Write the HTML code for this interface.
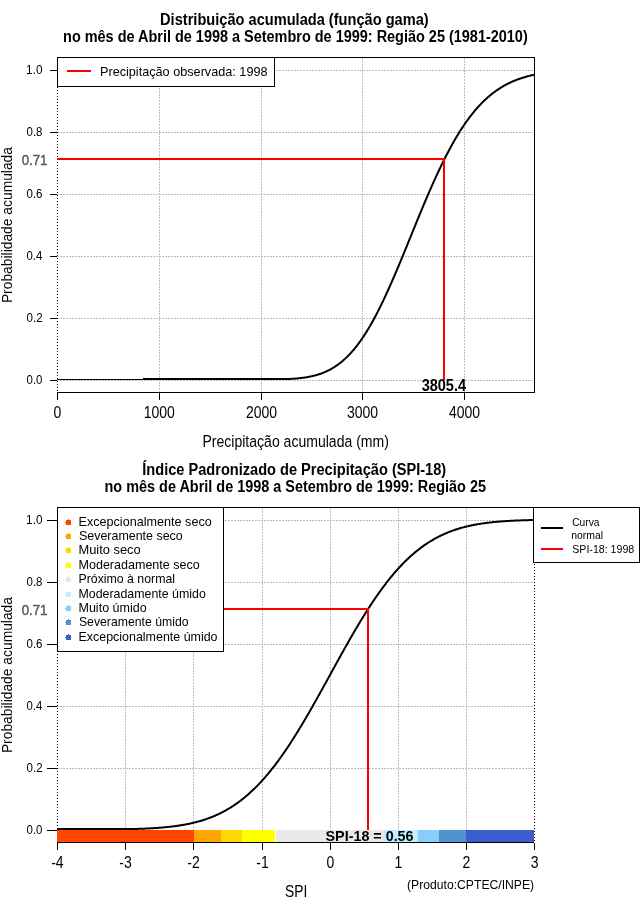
<!DOCTYPE html>
<html><head><meta charset="utf-8"><style>html,body{margin:0;padding:0;background:#fff;width:640px;height:900px;overflow:hidden}svg{display:block;will-change:transform}</style></head><body>
<svg width="640" height="900" viewBox="0 0 640 900">
<rect width="640" height="900" fill="#fff"/>
<g shape-rendering="crispEdges">
<line x1="57" y1="70.5" x2="534" y2="70.5" stroke="#bebebe" stroke-width="1" stroke-dasharray="2 1"/>
<line x1="57" y1="132.5" x2="534" y2="132.5" stroke="#bebebe" stroke-width="1" stroke-dasharray="2 1"/>
<line x1="57" y1="194.5" x2="534" y2="194.5" stroke="#bebebe" stroke-width="1" stroke-dasharray="2 1"/>
<line x1="57" y1="256.5" x2="534" y2="256.5" stroke="#bebebe" stroke-width="1" stroke-dasharray="2 1"/>
<line x1="57" y1="318.5" x2="534" y2="318.5" stroke="#bebebe" stroke-width="1" stroke-dasharray="2 1"/>
<line x1="57" y1="380.5" x2="534" y2="380.5" stroke="#bebebe" stroke-width="1" stroke-dasharray="2 1"/>
<line x1="159.5" y1="58" x2="159.5" y2="392" stroke="#bebebe" stroke-width="1" stroke-dasharray="2 1"/>
<line x1="261.5" y1="58" x2="261.5" y2="392" stroke="#bebebe" stroke-width="1" stroke-dasharray="2 1"/>
<line x1="362.5" y1="58" x2="362.5" y2="392" stroke="#bebebe" stroke-width="1" stroke-dasharray="2 1"/>
<line x1="464.5" y1="58" x2="464.5" y2="392" stroke="#bebebe" stroke-width="1" stroke-dasharray="2 1"/>
<line x1="57.5" y1="57" x2="57.5" y2="392" stroke="#000" stroke-width="1" stroke-dasharray="1 2"/>
</g>
<polyline points="143.00,379.00 143.80,379.00 144.60,379.00 145.39,379.00 146.19,379.00 146.98,379.00 147.78,379.00 148.58,379.00 149.37,379.00 150.17,379.00 150.97,379.00 151.76,379.00 152.56,379.00 153.36,379.00 154.15,379.00 154.95,379.00 155.74,379.00 156.54,379.00 157.34,379.00 158.13,379.00 158.93,379.00 159.73,379.00 160.52,379.00 161.32,379.00 162.12,379.00 162.91,379.00 163.71,379.00 164.50,379.00 165.30,379.00 166.10,379.00 166.89,379.00 167.69,379.00 168.49,379.00 169.28,379.00 170.08,379.00 170.87,379.00 171.67,379.00 172.47,379.00 173.26,379.00 174.06,379.00 174.86,379.00 175.65,379.00 176.45,379.00 177.25,379.00 178.04,379.00 178.84,379.00 179.63,379.00 180.43,379.00 181.23,379.00 182.02,379.00 182.82,379.00 183.62,379.00 184.41,379.00 185.21,379.00 186.01,379.00 186.80,379.00 187.60,379.00 188.39,379.00 189.19,379.00 189.99,379.00 190.78,379.00 191.58,379.00 192.38,379.00 193.17,379.00 193.97,379.00 194.76,379.00 195.56,379.00 196.36,379.00 197.15,379.00 197.95,379.00 198.75,379.00 199.54,379.00 200.34,379.00 201.14,379.00 201.93,379.00 202.73,379.00 203.52,379.00 204.32,379.00 205.12,379.00 205.91,379.00 206.71,379.00 207.51,379.00 208.30,379.00 209.10,379.00 209.89,379.00 210.69,379.00 211.49,379.00 212.28,379.00 213.08,379.00 213.88,379.00 214.67,379.00 215.47,379.00 216.27,379.00 217.06,379.00 217.86,379.00 218.65,379.00 219.45,379.00 220.25,379.00 221.04,379.00 221.84,379.00 222.64,379.00 223.43,379.00 224.23,379.00 225.03,379.00 225.82,379.00 226.62,379.00 227.41,379.00 228.21,379.00 229.01,379.00 229.80,379.00 230.60,379.00 231.40,379.00 232.19,379.00 232.99,379.00 233.78,379.00 234.58,379.00 235.38,379.00 236.17,379.00 236.97,379.00 237.77,379.00 238.56,379.00 239.36,379.00 240.16,379.00 240.95,379.00 241.75,379.00 242.54,379.00 243.34,379.00 244.14,379.00 244.93,379.00 245.73,379.00 246.53,379.00 247.32,379.00 248.12,379.00 248.91,379.00 249.71,379.00 250.51,379.00 251.30,379.00 252.10,379.00 252.90,379.00 253.69,379.00 254.49,379.00 255.29,379.00 256.08,379.00 256.88,379.00 257.67,379.00 258.47,379.00 259.27,379.00 260.06,379.00 260.86,379.00 261.66,379.00 262.45,379.00 263.25,379.00 264.05,379.00 264.84,379.00 265.64,379.00 266.43,379.00 267.23,379.00 268.03,379.00 268.82,379.00 269.62,379.00 270.42,379.00 271.21,379.00 272.01,379.00 272.80,379.00 273.60,379.00 274.40,379.00 275.19,379.00 275.99,379.00 276.79,379.00 277.58,379.00 278.38,379.00 279.18,379.00 279.97,379.00 280.77,379.00 281.56,379.00 282.36,379.00 283.16,379.00 283.95,379.00 284.75,379.00 285.55,379.00 286.34,379.00 287.14,379.00 287.93,379.00 288.73,379.00 289.53,378.95 290.32,378.91 291.12,378.86 291.92,378.81 292.71,378.76 293.51,378.71 294.31,378.65 295.10,378.58 295.90,378.52 296.69,378.45 297.49,378.38 298.29,378.30 299.08,378.22 299.88,378.13 300.68,378.04 301.47,377.95 302.27,377.85 303.07,377.74 303.86,377.64 304.66,377.52 305.45,377.40 306.25,377.27 307.05,377.14 307.84,377.00 308.64,376.86 309.44,376.70 310.23,376.55 311.03,376.38 311.82,376.21 312.62,376.02 313.42,375.83 314.21,375.64 315.01,375.43 315.81,375.22 316.60,374.99 317.40,374.76 318.20,374.52 318.99,374.26 319.79,374.00 320.58,373.73 321.38,373.45 322.18,373.15 322.97,372.85 323.77,372.53 324.57,372.20 325.36,371.86 326.16,371.51 326.95,371.14 327.75,370.76 328.55,370.37 329.34,369.97 330.14,369.55 330.94,369.12 331.73,368.67 332.53,368.21 333.33,367.73 334.12,367.24 334.92,366.73 335.71,366.21 336.51,365.67 337.31,365.11 338.10,364.54 338.90,363.95 339.70,363.35 340.49,362.73 341.29,362.09 342.09,361.43 342.88,360.75 343.68,360.06 344.47,359.35 345.27,358.62 346.07,357.87 346.86,357.10 347.66,356.31 348.46,355.50 349.25,354.68 350.05,353.83 350.84,352.97 351.64,352.08 352.44,351.17 353.23,350.25 354.03,349.30 354.83,348.33 355.62,347.35 356.42,346.34 357.22,345.31 358.01,344.26 358.81,343.19 359.60,342.10 360.40,340.99 361.20,339.86 361.99,338.70 362.79,337.53 363.59,336.33 364.38,335.12 365.18,333.88 365.97,332.63 366.77,331.35 367.57,330.05 368.36,328.73 369.16,327.39 369.96,326.04 370.75,324.66 371.55,323.26 372.35,321.84 373.14,320.41 373.94,318.95 374.73,317.48 375.53,315.98 376.33,314.47 377.12,312.94 377.92,311.39 378.72,309.82 379.51,308.24 380.31,306.64 381.11,305.02 381.90,303.38 382.70,301.73 383.49,300.06 384.29,298.38 385.09,296.68 385.88,294.97 386.68,293.24 387.48,291.50 388.27,289.74 389.07,287.98 389.86,286.19 390.66,284.40 391.46,282.59 392.25,280.77 393.05,278.94 393.85,277.10 394.64,275.25 395.44,273.39 396.24,271.52 397.03,269.64 397.83,267.76 398.62,265.86 399.42,263.96 400.22,262.05 401.01,260.13 401.81,258.21 402.61,256.28 403.40,254.35 404.20,252.41 404.99,250.47 405.79,248.52 406.59,246.57 407.38,244.62 408.18,242.67 408.98,240.71 409.77,238.75 410.57,236.80 411.37,234.84 412.16,232.88 412.96,230.93 413.75,228.97 414.55,227.02 415.35,225.07 416.14,223.12 416.94,221.18 417.74,219.24 418.53,217.30 419.33,215.37 420.13,213.44 420.92,211.52 421.72,209.60 422.51,207.69 423.31,205.79 424.11,203.90 424.90,202.01 425.70,200.13 426.50,198.26 427.29,196.40 428.09,194.55 428.88,192.70 429.68,190.87 430.48,189.05 431.27,187.23 432.07,185.43 432.87,183.64 433.66,181.87 434.46,180.10 435.26,178.35 436.05,176.61 436.85,174.88 437.64,173.16 438.44,171.46 439.24,169.77 440.03,168.10 440.83,166.44 441.63,164.80 442.42,163.17 443.22,161.55 444.02,159.95 444.81,158.36 445.61,156.80 446.40,155.24 447.20,153.70 448.00,152.18 448.79,150.67 449.59,149.18 450.39,147.71 451.18,146.25 451.98,144.81 452.77,143.39 453.57,141.98 454.37,140.59 455.16,139.22 455.96,137.86 456.76,136.52 457.55,135.20 458.35,133.90 459.15,132.61 459.94,131.34 460.74,130.08 461.53,128.85 462.33,127.63 463.13,126.43 463.92,125.24 464.72,124.07 465.52,122.92 466.31,121.79 467.11,120.67 467.90,119.57 468.70,118.49 469.50,117.42 470.29,116.38 471.09,115.34 471.89,114.33 472.68,113.33 473.48,112.35 474.28,111.38 475.07,110.43 475.87,109.50 476.66,108.58 477.46,107.68 478.26,106.79 479.05,105.92 479.85,105.07 480.65,104.23 481.44,103.40 482.24,102.60 483.04,101.80 483.83,101.02 484.63,100.26 485.42,99.51 486.22,98.78 487.02,98.05 487.81,97.35 488.61,96.66 489.41,95.98 490.20,95.31 491.00,94.66 491.79,94.02 492.59,93.40 493.39,92.78 494.18,92.18 494.98,91.60 495.78,91.02 496.57,90.46 497.37,89.91 498.17,89.37 498.96,88.85 499.76,88.33 500.55,87.83 501.35,87.34 502.15,86.86 502.94,86.39 503.74,85.93 504.54,85.48 505.33,85.04 506.13,84.61 506.92,84.19 507.72,83.79 508.52,83.39 509.31,83.00 510.11,82.62 510.91,82.25 511.70,81.89 512.50,81.53 513.30,81.19 514.09,80.85 514.89,80.53 515.68,80.21 516.48,79.90 517.28,79.59 518.07,79.30 518.87,79.01 519.67,78.73 520.46,78.46 521.26,78.19 522.06,77.93 522.85,77.68 523.65,77.44 524.44,77.20 525.24,76.96 526.04,76.74 526.83,76.52 527.63,76.30 528.43,76.10 529.22,75.89 530.02,75.70 530.81,75.50 531.61,75.32 532.41,75.14 533.20,74.96 534.00,74.79" fill="none" stroke="#000" stroke-width="2"/>
<g shape-rendering="crispEdges">
<line x1="57" y1="159.0" x2="445" y2="159.0" stroke="#f00" stroke-width="2"/>
<line x1="444.0" y1="158" x2="444.0" y2="380" stroke="#f00" stroke-width="2"/>
<line x1="57" y1="57.5" x2="535" y2="57.5" stroke="#000" stroke-width="1"/>
<line x1="534.5" y1="57" x2="534.5" y2="393" stroke="#000" stroke-width="1"/>
<line x1="57" y1="392.5" x2="535" y2="392.5" stroke="#000" stroke-width="1"/>
<line x1="50" y1="70.5" x2="57" y2="70.5" stroke="#000" stroke-width="1"/>
<line x1="50" y1="132.5" x2="57" y2="132.5" stroke="#000" stroke-width="1"/>
<line x1="50" y1="194.5" x2="57" y2="194.5" stroke="#000" stroke-width="1"/>
<line x1="50" y1="256.5" x2="57" y2="256.5" stroke="#000" stroke-width="1"/>
<line x1="50" y1="318.5" x2="57" y2="318.5" stroke="#000" stroke-width="1"/>
<line x1="50" y1="380.5" x2="57" y2="380.5" stroke="#000" stroke-width="1"/>
<line x1="57.5" y1="393" x2="57.5" y2="400" stroke="#000" stroke-width="1"/>
<line x1="159.5" y1="393" x2="159.5" y2="400" stroke="#000" stroke-width="1"/>
<line x1="261.5" y1="393" x2="261.5" y2="400" stroke="#000" stroke-width="1"/>
<line x1="362.5" y1="393" x2="362.5" y2="400" stroke="#000" stroke-width="1"/>
<line x1="464.5" y1="393" x2="464.5" y2="400" stroke="#000" stroke-width="1"/>
</g>
<g shape-rendering="crispEdges">
<line x1="57" y1="379.5" x2="144" y2="379.5" stroke="#000" stroke-width="1"/>
</g>
<g shape-rendering="crispEdges">
<rect x="57.5" y="57.5" width="217" height="29" fill="#fff" stroke="#000" stroke-width="1"/>
<line x1="67" y1="71.0" x2="91" y2="71.0" stroke="#f00" stroke-width="2"/>
</g>
<g font-family="Liberation Sans, sans-serif">
<text x="160.05" y="25" font-size="15.71" font-weight="bold" fill="#000" textLength="268.65" lengthAdjust="spacingAndGlyphs">Distribuição acumulada (função gama)</text>
<text x="63.06" y="42" font-size="15.71" font-weight="bold" fill="#000" textLength="464.66" lengthAdjust="spacingAndGlyphs">no mês de Abril de 1998 a Setembro de 1999: Região 25 (1981-2010)</text>
<text x="26.12" y="74" font-size="12.86" fill="#000" textLength="16.35" lengthAdjust="spacingAndGlyphs">1.0</text>
<text x="26.54" y="136" font-size="12.86" fill="#000" textLength="15.92" lengthAdjust="spacingAndGlyphs">0.8</text>
<text x="26.54" y="198" font-size="12.86" fill="#000" textLength="15.98" lengthAdjust="spacingAndGlyphs">0.6</text>
<text x="26.55" y="260" font-size="12.86" fill="#000" textLength="15.80" lengthAdjust="spacingAndGlyphs">0.4</text>
<text x="26.54" y="322" font-size="12.86" fill="#000" textLength="16.04" lengthAdjust="spacingAndGlyphs">0.2</text>
<text x="26.54" y="384" font-size="12.86" fill="#000" textLength="15.92" lengthAdjust="spacingAndGlyphs">0.0</text>
<text x="21.77" y="165" font-size="15.14" fill="#5a5a5a" textLength="25.60" lengthAdjust="spacingAndGlyphs" stroke="#5a5a5a" stroke-width="0.5">0.71</text>
<text x="53.62" y="418" font-size="15.71" fill="#000" textLength="7.78" lengthAdjust="spacingAndGlyphs">0</text>
<text x="143.70" y="418" font-size="15.71" fill="#000" textLength="31.10" lengthAdjust="spacingAndGlyphs">1000</text>
<text x="245.88" y="418" font-size="15.71" fill="#000" textLength="31.10" lengthAdjust="spacingAndGlyphs">2000</text>
<text x="346.95" y="418" font-size="15.71" fill="#000" textLength="31.10" lengthAdjust="spacingAndGlyphs">3000</text>
<text x="449.05" y="418" font-size="15.71" fill="#000" textLength="31.10" lengthAdjust="spacingAndGlyphs">4000</text>
<text x="202.48" y="447" font-size="15.71" fill="#000" textLength="186.41" lengthAdjust="spacingAndGlyphs">Precipitação acumulada (mm)</text>
<g transform="translate(12 0) rotate(-90)">
<text x="-303.11" y="0" font-size="15.29" fill="#000" textLength="156.12" lengthAdjust="spacingAndGlyphs">Probabilidade acumulada</text>
</g>
<text x="99.99" y="76" font-size="12.86" fill="#000" textLength="167.54" lengthAdjust="spacingAndGlyphs">Precipitação observada: 1998</text>
<text x="421.64" y="391" font-size="15.71" font-weight="bold" fill="#000" textLength="44.42" lengthAdjust="spacingAndGlyphs">3805.4</text>
</g>
<g shape-rendering="crispEdges">
<line x1="57" y1="520.5" x2="534" y2="520.5" stroke="#bebebe" stroke-width="1" stroke-dasharray="2 1"/>
<line x1="57" y1="582.5" x2="534" y2="582.5" stroke="#bebebe" stroke-width="1" stroke-dasharray="2 1"/>
<line x1="57" y1="644.5" x2="534" y2="644.5" stroke="#bebebe" stroke-width="1" stroke-dasharray="2 1"/>
<line x1="57" y1="706.5" x2="534" y2="706.5" stroke="#bebebe" stroke-width="1" stroke-dasharray="2 1"/>
<line x1="57" y1="768.5" x2="534" y2="768.5" stroke="#bebebe" stroke-width="1" stroke-dasharray="2 1"/>
<line x1="57" y1="830.5" x2="534" y2="830.5" stroke="#bebebe" stroke-width="1" stroke-dasharray="2 1"/>
<line x1="125.5" y1="508" x2="125.5" y2="842" stroke="#bebebe" stroke-width="1" stroke-dasharray="2 1"/>
<line x1="193.5" y1="508" x2="193.5" y2="842" stroke="#bebebe" stroke-width="1" stroke-dasharray="2 1"/>
<line x1="262.5" y1="508" x2="262.5" y2="842" stroke="#bebebe" stroke-width="1" stroke-dasharray="2 1"/>
<line x1="330.5" y1="508" x2="330.5" y2="842" stroke="#bebebe" stroke-width="1" stroke-dasharray="2 1"/>
<line x1="398.5" y1="508" x2="398.5" y2="842" stroke="#bebebe" stroke-width="1" stroke-dasharray="2 1"/>
<line x1="466.5" y1="508" x2="466.5" y2="842" stroke="#bebebe" stroke-width="1" stroke-dasharray="2 1"/>
<line x1="57.5" y1="507" x2="57.5" y2="842" stroke="#000" stroke-width="1" stroke-dasharray="1 2"/>
</g>
<polyline points="57.00,829.00 57.80,829.00 58.59,829.00 59.39,829.00 60.19,829.00 60.98,829.00 61.78,829.00 62.57,829.00 63.37,829.00 64.17,829.00 64.96,829.00 65.76,829.00 66.56,829.00 67.35,829.00 68.15,829.00 68.94,829.00 69.74,829.00 70.54,829.00 71.33,829.00 72.13,829.00 72.93,829.00 73.72,829.00 74.52,829.00 75.32,829.00 76.11,829.00 76.91,829.00 77.70,829.00 78.50,829.00 79.30,829.00 80.09,829.00 80.89,829.00 81.69,829.00 82.48,829.00 83.28,829.00 84.08,829.00 84.87,829.00 85.67,829.00 86.46,829.00 87.26,829.00 88.06,829.00 88.85,829.00 89.65,829.00 90.45,829.00 91.24,829.00 92.04,829.00 92.83,829.00 93.63,829.00 94.43,829.00 95.22,829.00 96.02,829.00 96.82,829.00 97.61,829.00 98.41,829.00 99.21,829.00 100.00,829.00 100.80,829.00 101.59,829.00 102.39,829.00 103.19,829.00 103.98,829.00 104.78,829.00 105.58,829.00 106.37,829.00 107.17,829.00 107.96,829.00 108.76,829.00 109.56,829.00 110.35,829.00 111.15,829.00 111.95,829.00 112.74,829.00 113.54,829.00 114.34,829.00 115.13,829.00 115.93,829.00 116.72,829.00 117.52,829.00 118.32,829.00 119.11,829.00 119.91,829.00 120.71,829.00 121.50,829.00 122.30,829.00 123.10,829.00 123.89,829.00 124.69,829.00 125.48,829.00 126.28,829.00 127.08,829.00 127.87,829.00 128.67,829.00 129.47,829.00 130.26,829.00 131.06,829.00 131.85,829.00 132.65,829.00 133.45,829.00 134.24,829.00 135.04,828.97 135.84,828.95 136.63,828.92 137.43,828.90 138.23,828.87 139.02,828.85 139.82,828.82 140.61,828.79 141.41,828.76 142.21,828.73 143.00,828.70 143.80,828.66 144.60,828.63 145.39,828.59 146.19,828.56 146.98,828.52 147.78,828.48 148.58,828.44 149.37,828.40 150.17,828.36 150.97,828.31 151.76,828.27 152.56,828.22 153.36,828.17 154.15,828.12 154.95,828.07 155.74,828.02 156.54,827.97 157.34,827.91 158.13,827.85 158.93,827.79 159.73,827.73 160.52,827.67 161.32,827.60 162.12,827.54 162.91,827.47 163.71,827.40 164.50,827.33 165.30,827.25 166.10,827.17 166.89,827.09 167.69,827.01 168.49,826.93 169.28,826.84 170.08,826.75 170.87,826.66 171.67,826.57 172.47,826.47 173.26,826.37 174.06,826.27 174.86,826.17 175.65,826.06 176.45,825.95 177.25,825.84 178.04,825.72 178.84,825.60 179.63,825.48 180.43,825.35 181.23,825.22 182.02,825.09 182.82,824.96 183.62,824.82 184.41,824.67 185.21,824.53 186.01,824.38 186.80,824.22 187.60,824.06 188.39,823.90 189.19,823.74 189.99,823.57 190.78,823.39 191.58,823.21 192.38,823.03 193.17,822.84 193.97,822.65 194.76,822.46 195.56,822.26 196.36,822.05 197.15,821.84 197.95,821.63 198.75,821.41 199.54,821.18 200.34,820.95 201.14,820.71 201.93,820.47 202.73,820.23 203.52,819.98 204.32,819.72 205.12,819.46 205.91,819.19 206.71,818.91 207.51,818.63 208.30,818.34 209.10,818.05 209.89,817.75 210.69,817.45 211.49,817.14 212.28,816.82 213.08,816.50 213.88,816.16 214.67,815.83 215.47,815.48 216.27,815.13 217.06,814.77 217.86,814.41 218.65,814.03 219.45,813.65 220.25,813.27 221.04,812.87 221.84,812.47 222.64,812.06 223.43,811.64 224.23,811.22 225.03,810.78 225.82,810.34 226.62,809.89 227.41,809.44 228.21,808.97 229.01,808.50 229.80,808.02 230.60,807.53 231.40,807.03 232.19,806.52 232.99,806.00 233.78,805.48 234.58,804.95 235.38,804.40 236.17,803.85 236.97,803.29 237.77,802.72 238.56,802.14 239.36,801.55 240.16,800.96 240.95,800.35 241.75,799.73 242.54,799.11 243.34,798.47 244.14,797.83 244.93,797.17 245.73,796.51 246.53,795.84 247.32,795.15 248.12,794.46 248.91,793.76 249.71,793.04 250.51,792.32 251.30,791.59 252.10,790.84 252.90,790.09 253.69,789.32 254.49,788.55 255.29,787.77 256.08,786.97 256.88,786.17 257.67,785.35 258.47,784.53 259.27,783.69 260.06,782.85 260.86,781.99 261.66,781.12 262.45,780.25 263.25,779.36 264.05,778.46 264.84,777.56 265.64,776.64 266.43,775.71 267.23,774.77 268.03,773.82 268.82,772.87 269.62,771.90 270.42,770.92 271.21,769.93 272.01,768.93 272.80,767.92 273.60,766.90 274.40,765.87 275.19,764.83 275.99,763.78 276.79,762.72 277.58,761.65 278.38,760.57 279.18,759.48 279.97,758.38 280.77,757.28 281.56,756.16 282.36,755.03 283.16,753.90 283.95,752.75 284.75,751.60 285.55,750.43 286.34,749.26 287.14,748.08 287.93,746.89 288.73,745.69 289.53,744.48 290.32,743.26 291.12,742.04 291.92,740.80 292.71,739.56 293.51,738.31 294.31,737.06 295.10,735.79 295.90,734.52 296.69,733.24 297.49,731.95 298.29,730.65 299.08,729.35 299.88,728.04 300.68,726.73 301.47,725.40 302.27,724.07 303.07,722.74 303.86,721.40 304.66,720.05 305.45,718.69 306.25,717.33 307.05,715.97 307.84,714.60 308.64,713.22 309.44,711.84 310.23,710.45 311.03,709.06 311.82,707.66 312.62,706.26 313.42,704.86 314.21,703.45 315.01,702.04 315.81,700.62 316.60,699.20 317.40,697.78 318.20,696.35 318.99,694.92 319.79,693.49 320.58,692.06 321.38,690.62 322.18,689.18 322.97,687.74 323.77,686.29 324.57,684.85 325.36,683.40 326.16,681.96 326.95,680.51 327.75,679.06 328.55,677.61 329.34,676.16 330.14,674.71 330.94,673.26 331.73,671.81 332.53,670.36 333.33,668.91 334.12,667.46 334.92,666.01 335.71,664.57 336.51,663.12 337.31,661.68 338.10,660.24 338.90,658.80 339.70,657.36 340.49,655.92 341.29,654.49 342.09,653.06 342.88,651.64 343.68,650.21 344.47,648.79 345.27,647.37 346.07,645.96 346.86,644.55 347.66,643.15 348.46,641.75 349.25,640.35 350.05,638.96 350.84,637.57 351.64,636.19 352.44,634.81 353.23,633.44 354.03,632.07 354.83,630.71 355.62,629.35 356.42,628.01 357.22,626.66 358.01,625.33 358.81,624.00 359.60,622.67 360.40,621.35 361.20,620.04 361.99,618.74 362.79,617.44 363.59,616.16 364.38,614.87 365.18,613.60 365.97,612.33 366.77,611.07 367.57,609.82 368.36,608.58 369.16,607.35 369.96,606.12 370.75,604.90 371.55,603.69 372.35,602.49 373.14,601.30 373.94,600.12 374.73,598.94 375.53,597.78 376.33,596.62 377.12,595.48 377.92,594.34 378.72,593.21 379.51,592.09 380.31,590.98 381.11,589.88 381.90,588.79 382.70,587.71 383.49,586.64 384.29,585.58 385.09,584.53 385.88,583.49 386.68,582.46 387.48,581.43 388.27,580.42 389.07,579.42 389.86,578.43 390.66,577.45 391.46,576.48 392.25,575.52 393.05,574.57 393.85,573.63 394.64,572.70 395.44,571.78 396.24,570.87 397.03,569.97 397.83,569.08 398.62,568.21 399.42,567.34 400.22,566.48 401.01,565.63 401.81,564.80 402.61,563.97 403.40,563.15 404.20,562.35 404.99,561.55 405.79,560.77 406.59,559.99 407.38,559.23 408.18,558.47 408.98,557.73 409.77,556.99 410.57,556.27 411.37,555.55 412.16,554.85 412.96,554.15 413.75,553.47 414.55,552.79 415.35,552.12 416.14,551.47 416.94,550.82 417.74,550.19 418.53,549.56 419.33,548.94 420.13,548.33 420.92,547.73 421.72,547.15 422.51,546.57 423.31,545.99 424.11,545.43 424.90,544.88 425.70,544.34 426.50,543.80 427.29,543.27 428.09,542.76 428.88,542.25 429.68,541.75 430.48,541.26 431.27,540.77 432.07,540.30 432.87,539.83 433.66,539.37 434.46,538.92 435.26,538.48 436.05,538.05 436.85,537.62 437.64,537.20 438.44,536.79 439.24,536.39 440.03,535.99 440.83,535.60 441.63,535.22 442.42,534.85 443.22,534.48 444.02,534.12 444.81,533.77 445.61,533.42 446.40,533.09 447.20,532.75 448.00,532.43 448.79,532.11 449.59,531.80 450.39,531.49 451.18,531.19 451.98,530.90 452.77,530.61 453.57,530.33 454.37,530.05 455.16,529.78 455.96,529.52 456.76,529.26 457.55,529.01 458.35,528.76 459.15,528.52 459.94,528.29 460.74,528.05 461.53,527.83 462.33,527.61 463.13,527.39 463.92,527.18 464.72,526.97 465.52,526.77 466.31,526.58 467.11,526.38 467.90,526.20 468.70,526.01 469.50,525.83 470.29,525.66 471.09,525.49 471.89,525.32 472.68,525.16 473.48,525.00 474.28,524.85 475.07,524.70 475.87,524.55 476.66,524.41 477.46,524.27 478.26,524.13 479.05,524.00 479.85,523.87 480.65,523.74 481.44,523.62 482.24,523.50 483.04,523.38 483.83,523.27 484.63,523.16 485.42,523.05 486.22,522.94 487.02,522.84 487.81,522.74 488.61,522.65 489.41,522.55 490.20,522.46 491.00,522.37 491.79,522.28 492.59,522.20 493.39,522.12 494.18,522.04 494.98,521.96 495.78,521.89 496.57,521.81 497.37,521.74 498.17,521.67 498.96,521.61 499.76,521.54 500.55,521.48 501.35,521.42 502.15,521.36 502.94,521.30 503.74,521.24 504.54,521.19 505.33,521.13 506.13,521.08 506.92,521.03 507.72,520.99 508.52,520.94 509.31,520.89 510.11,520.85 510.91,520.81 511.70,520.76 512.50,520.72 513.30,520.69 514.09,520.65 514.89,520.61 515.68,520.58 516.48,520.54 517.28,520.51 518.07,520.48 518.87,520.45 519.67,520.42 520.46,520.39 521.26,520.36 522.06,520.33 522.85,520.31 523.65,520.28 524.44,520.26 525.24,520.23 526.04,520.21 526.83,520.19 527.63,520.16 528.43,520.14 529.22,520.12 530.02,520.10 530.81,520.09 531.61,520.07 532.41,520.05 533.20,520.03 534.00,520.02" fill="none" stroke="#000" stroke-width="2"/>
<g shape-rendering="crispEdges">
<line x1="57" y1="609.0" x2="369" y2="609.0" stroke="#f00" stroke-width="2"/>
<line x1="368.0" y1="608" x2="368.0" y2="830" stroke="#f00" stroke-width="2"/>
<rect x="57" y="830" width="137" height="12" fill="#FF4500"/>
<rect x="194" y="830" width="27" height="12" fill="#FFA500"/>
<rect x="221" y="830" width="21" height="12" fill="#FFD700"/>
<rect x="242" y="830" width="33" height="12" fill="#FFFF00"/>
<rect x="276" y="830" width="108" height="12" fill="#E8E8E8"/>
<rect x="384" y="830" width="34" height="12" fill="#BFEFFF"/>
<rect x="418" y="830" width="21" height="12" fill="#87CEFA"/>
<rect x="439" y="830" width="27" height="12" fill="#4F94CD"/>
<rect x="466" y="830" width="68" height="12" fill="#3A5FCD"/>
<line x1="57" y1="507.5" x2="535" y2="507.5" stroke="#000" stroke-width="1"/>
<line x1="534.5" y1="507" x2="534.5" y2="842" stroke="#000" stroke-width="1" stroke-dasharray="1 2"/>
<line x1="57" y1="842.5" x2="534" y2="842.5" stroke="#000" stroke-width="1"/>
<line x1="47" y1="520.5" x2="57" y2="520.5" stroke="#000" stroke-width="1"/>
<line x1="47" y1="582.5" x2="57" y2="582.5" stroke="#000" stroke-width="1"/>
<line x1="47" y1="644.5" x2="57" y2="644.5" stroke="#000" stroke-width="1"/>
<line x1="47" y1="706.5" x2="57" y2="706.5" stroke="#000" stroke-width="1"/>
<line x1="47" y1="768.5" x2="57" y2="768.5" stroke="#000" stroke-width="1"/>
<line x1="47" y1="830.5" x2="57" y2="830.5" stroke="#000" stroke-width="1"/>
<line x1="57.5" y1="843" x2="57.5" y2="850" stroke="#000" stroke-width="1"/>
<line x1="125.5" y1="843" x2="125.5" y2="850" stroke="#000" stroke-width="1"/>
<line x1="193.5" y1="843" x2="193.5" y2="850" stroke="#000" stroke-width="1"/>
<line x1="262.5" y1="843" x2="262.5" y2="850" stroke="#000" stroke-width="1"/>
<line x1="330.5" y1="843" x2="330.5" y2="850" stroke="#000" stroke-width="1"/>
<line x1="398.5" y1="843" x2="398.5" y2="850" stroke="#000" stroke-width="1"/>
<line x1="466.5" y1="843" x2="466.5" y2="850" stroke="#000" stroke-width="1"/>
<line x1="534.5" y1="843" x2="534.5" y2="850" stroke="#000" stroke-width="1"/>
</g>
<g shape-rendering="crispEdges">
<rect x="57.5" y="507.5" width="166" height="144" fill="#fff" stroke="#000" stroke-width="1"/>
<rect x="533.5" y="507.5" width="106" height="55" fill="#fff" stroke="#000" stroke-width="1"/>
<line x1="541" y1="528.0" x2="563" y2="528.0" stroke="#000" stroke-width="2"/>
<line x1="541" y1="549.0" x2="563" y2="549.0" stroke="#f00" stroke-width="2"/>
<rect x="66" y="520" width="5" height="5" fill="#FF4500"/>
<rect x="68" y="519" width="1" height="1" fill="#FF4500"/>
<rect x="65" y="522" width="1" height="1" fill="#FF4500"/>
<rect x="66" y="534" width="5" height="5" fill="#FFA500"/>
<rect x="68" y="533" width="1" height="1" fill="#FFA500"/>
<rect x="65" y="536" width="1" height="1" fill="#FFA500"/>
<rect x="66" y="548" width="5" height="5" fill="#FFD700"/>
<rect x="68" y="547" width="1" height="1" fill="#FFD700"/>
<rect x="65" y="550" width="1" height="1" fill="#FFD700"/>
<rect x="66" y="563" width="5" height="5" fill="#FFFF00"/>
<rect x="68" y="562" width="1" height="1" fill="#FFFF00"/>
<rect x="65" y="565" width="1" height="1" fill="#FFFF00"/>
<rect x="66" y="577" width="5" height="5" fill="#E8E8E8"/>
<rect x="68" y="576" width="1" height="1" fill="#E8E8E8"/>
<rect x="65" y="579" width="1" height="1" fill="#E8E8E8"/>
<rect x="66" y="592" width="5" height="5" fill="#BFEFFF"/>
<rect x="68" y="591" width="1" height="1" fill="#BFEFFF"/>
<rect x="65" y="594" width="1" height="1" fill="#BFEFFF"/>
<rect x="66" y="606" width="5" height="5" fill="#87CEFA"/>
<rect x="68" y="605" width="1" height="1" fill="#87CEFA"/>
<rect x="65" y="608" width="1" height="1" fill="#87CEFA"/>
<rect x="66" y="620" width="5" height="5" fill="#4F94CD"/>
<rect x="68" y="619" width="1" height="1" fill="#4F94CD"/>
<rect x="65" y="622" width="1" height="1" fill="#4F94CD"/>
<rect x="66" y="635" width="5" height="5" fill="#3A5FCD"/>
<rect x="68" y="634" width="1" height="1" fill="#3A5FCD"/>
<rect x="65" y="637" width="1" height="1" fill="#3A5FCD"/>
</g>
<g font-family="Liberation Sans, sans-serif">
<text x="142.27" y="475" font-size="15.71" font-weight="bold" fill="#000" textLength="303.95" lengthAdjust="spacingAndGlyphs">Índice Padronizado de Precipitação (SPI-18)</text>
<text x="104.56" y="492" font-size="15.71" font-weight="bold" fill="#000" textLength="381.45" lengthAdjust="spacingAndGlyphs">no mês de Abril de 1998 a Setembro de 1999: Região 25</text>
<text x="26.12" y="524" font-size="12.86" fill="#000" textLength="16.35" lengthAdjust="spacingAndGlyphs">1.0</text>
<text x="26.54" y="586" font-size="12.86" fill="#000" textLength="15.92" lengthAdjust="spacingAndGlyphs">0.8</text>
<text x="26.54" y="648" font-size="12.86" fill="#000" textLength="15.98" lengthAdjust="spacingAndGlyphs">0.6</text>
<text x="26.55" y="710" font-size="12.86" fill="#000" textLength="15.80" lengthAdjust="spacingAndGlyphs">0.4</text>
<text x="26.54" y="772" font-size="12.86" fill="#000" textLength="16.04" lengthAdjust="spacingAndGlyphs">0.2</text>
<text x="26.54" y="834" font-size="12.86" fill="#000" textLength="15.92" lengthAdjust="spacingAndGlyphs">0.0</text>
<text x="21.77" y="615" font-size="15.14" fill="#5a5a5a" textLength="25.60" lengthAdjust="spacingAndGlyphs" stroke="#5a5a5a" stroke-width="0.5">0.71</text>
<text x="51.17" y="868" font-size="15.71" fill="#000" textLength="12.43" lengthAdjust="spacingAndGlyphs">-4</text>
<text x="119.28" y="868" font-size="15.71" fill="#000" textLength="12.43" lengthAdjust="spacingAndGlyphs">-3</text>
<text x="187.31" y="868" font-size="15.71" fill="#000" textLength="12.43" lengthAdjust="spacingAndGlyphs">-2</text>
<text x="256.31" y="868" font-size="15.71" fill="#000" textLength="12.43" lengthAdjust="spacingAndGlyphs">-1</text>
<text x="326.62" y="868" font-size="15.71" fill="#000" textLength="7.78" lengthAdjust="spacingAndGlyphs">0</text>
<text x="394.45" y="868" font-size="15.71" fill="#000" textLength="7.78" lengthAdjust="spacingAndGlyphs">1</text>
<text x="462.62" y="868" font-size="15.71" fill="#000" textLength="7.78" lengthAdjust="spacingAndGlyphs">2</text>
<text x="530.66" y="868" font-size="15.71" fill="#000" textLength="7.78" lengthAdjust="spacingAndGlyphs">3</text>
<text x="285.08" y="897" font-size="15.71" fill="#000" textLength="22.29" lengthAdjust="spacingAndGlyphs">SPI</text>
<g transform="translate(12 0) rotate(-90)">
<text x="-753.11" y="0" font-size="15.29" fill="#000" textLength="156.12" lengthAdjust="spacingAndGlyphs">Probabilidade acumulada</text>
</g>
<text x="78.49" y="526" font-size="12.86" fill="#000" textLength="133.29" lengthAdjust="spacingAndGlyphs">Excepcionalmente seco</text>
<text x="78.94" y="540" font-size="12.86" fill="#000" textLength="103.85" lengthAdjust="spacingAndGlyphs">Severamente seco</text>
<text x="78.47" y="554" font-size="12.86" fill="#000" textLength="62.25" lengthAdjust="spacingAndGlyphs">Muito seco</text>
<text x="78.50" y="569" font-size="12.86" fill="#000" textLength="121.24" lengthAdjust="spacingAndGlyphs">Moderadamente seco</text>
<text x="78.51" y="583" font-size="12.86" fill="#000" textLength="96.50" lengthAdjust="spacingAndGlyphs">Próximo à normal</text>
<text x="78.51" y="598" font-size="12.86" fill="#000" textLength="127.27" lengthAdjust="spacingAndGlyphs">Moderadamente úmido</text>
<text x="78.50" y="612" font-size="12.86" fill="#000" textLength="68.13" lengthAdjust="spacingAndGlyphs">Muito úmido</text>
<text x="78.95" y="626" font-size="12.86" fill="#000" textLength="109.64" lengthAdjust="spacingAndGlyphs">Severamente úmido</text>
<text x="78.50" y="641" font-size="12.86" fill="#000" textLength="139.03" lengthAdjust="spacingAndGlyphs">Excepcionalmente úmido</text>
<text x="572.19" y="526" font-size="11.43" fill="#000" textLength="27.34" lengthAdjust="spacingAndGlyphs">Curva</text>
<text x="571.22" y="539" font-size="11.43" fill="#000" textLength="31.77" lengthAdjust="spacingAndGlyphs">normal</text>
<text x="572.22" y="553" font-size="11.43" fill="#000" textLength="62.03" lengthAdjust="spacingAndGlyphs">SPI-18: 1998</text>
<text x="325.57" y="841" font-size="14.29" font-weight="bold" fill="#000" textLength="87.98" lengthAdjust="spacingAndGlyphs">SPI-18 = 0.56</text>
<text x="406.97" y="889" font-size="12.86" fill="#000" textLength="127.19" lengthAdjust="spacingAndGlyphs">(Produto:CPTEC/INPE)</text>
</g>
</svg>
</body></html>
